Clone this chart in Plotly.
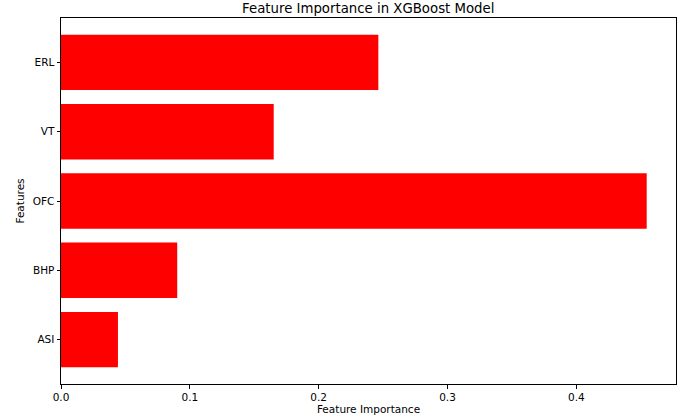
import plotly.graph_objects as go

features = ["ASI", "BHP", "OFC", "VT", "ERL"]
importance = [0.0442, 0.0902, 0.4546, 0.1651, 0.2463]

title_text = "Feature Importance in XGBoost Model"
x_title = "Feature Importance"
y_title = "Features"
x_ticks = [0.0, 0.1, 0.2, 0.3, 0.4]
x_tick_labels = ["0.0", "0.1", "0.2", "0.3", "0.4"]

font_family = "DejaVu Sans"

fig = go.Figure(
    go.Bar(
        x=importance,
        y=features,
        orientation="h",
        marker=dict(color="#ff0000", line=dict(width=0)),
        width=0.8,
    )
)

xmax = max(importance) * 1.05

fig.update_layout(
    width=685,
    height=420,
    margin=dict(l=60.5, r=9, t=18, b=36.3),
    paper_bgcolor="white",
    plot_bgcolor="white",
    showlegend=False,
    font=dict(family=font_family, color="black", size=10.5),
    title=dict(
        text=title_text,
        x=(60.5 + 676) / 2 / 685,
        xanchor="center",
        xref="container",
        y=1 - 8 / 420,
        yanchor="middle",
        yref="container",
        font=dict(size=13.3, family=font_family, color="black"),
    ),
    xaxis=dict(
        range=[0, xmax],
        tickvals=x_ticks,
        ticktext=x_tick_labels,
        ticks="outside",
        ticklen=3.5,
        tickwidth=0.8,
        tickcolor="black",
        showline=True,
        linecolor="black",
        linewidth=1,
        mirror=True,
        showgrid=False,
        zeroline=False,
        automargin=False,
        title=dict(text=x_title, standoff=3, font=dict(size=10.5)),
        tickfont=dict(size=10.5),
    ),
    yaxis=dict(
        type="category",
        categoryorder="array",
        categoryarray=features,
        range=[-0.64, 4.64],
        ticks="outside",
        ticklen=3.5,
        tickwidth=0.8,
        tickcolor="black",
        showline=True,
        linecolor="black",
        linewidth=1,
        mirror=True,
        showgrid=False,
        zeroline=False,
        automargin=False,
        title=dict(text=y_title, standoff=6, font=dict(size=10.5)),
        tickfont=dict(size=10.5),
    ),
)

fig.write_html(
    "out.html",
    config={"displayModeBar": False},
    post_script="document.body.style.margin='0';document.body.style.padding='0';",
)
